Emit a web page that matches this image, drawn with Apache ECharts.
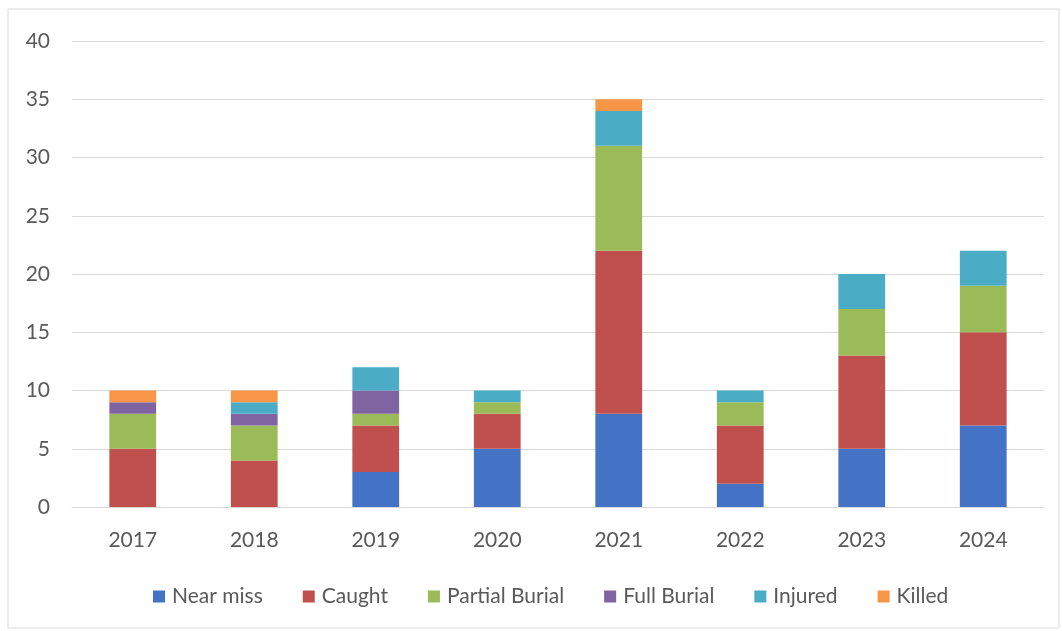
<!DOCTYPE html>
<html>
<head>
<meta charset="utf-8">
<script src="https://cdn.jsdelivr.net/npm/echarts@6/dist/echarts.min.js"></script>
<style>
  html, body { margin: 0; padding: 0; background: #fff; }
  #chart { width: 1062px; height: 631px; }
</style>
</head>
<body>
<div id="chart"></div>
<script>
// Incident outcomes per year
const years = ['2017', '2018', '2019', '2020', '2021', '2022', '2023', '2024'];
const nearMiss      = [0, 0, 3, 5, 8, 2, 5, 7];
const caught        = [5, 4, 4, 3, 14, 5, 8, 8];
const partialBurial = [3, 3, 1, 1, 9, 2, 4, 4];
const fullBurial    = [1, 1, 2, 0, 0, 0, 0, 0];
const injured       = [0, 1, 2, 1, 3, 1, 3, 3];
const killed        = [1, 1, 0, 0, 1, 0, 0, 0];

const seriesDefs = [
  ['Near miss', nearMiss, '#4472C4'],
  ['Caught', caught, '#C0504D'],
  ['Partial Burial', partialBurial, '#9BBB59'],
  ['Full Burial', fullBurial, '#8064A2'],
  ['Injured', injured, '#4BACC6'],
  ['Killed', killed, '#F79646']
];

const textColor = '#595959';
const fontFamily = 'Lato, "Open Sans", sans-serif';

const chart = echarts.init(document.getElementById('chart'), null, { renderer: 'canvas' });
chart.setOption({
  animation: false,
  backgroundColor: '#fff',
  textStyle: { fontFamily: fontFamily },
  graphic: [{
    type: 'rect',
    shape: { x: 8, y: 9, width: 1051, height: 619 },
    style: { fill: 'none', stroke: '#d9d9d9', lineWidth: 1 },
    silent: true
  }],
  grid: { left: 72, right: 18, top: 41, bottom: 124 },
  legend: {
    bottom: 19,
    left: 148,
    itemWidth: 12,
    itemHeight: 12,
    itemGap: 40,
    icon: 'rect',
    textStyle: { color: textColor, fontSize: 21, fontFamily: fontFamily, padding: [0, 0, 0, 2] },
    data: seriesDefs.map(d => d[0])
  },
  xAxis: {
    type: 'category',
    data: years,
    axisLine: { show: true, lineStyle: { color: '#d9d9d9', width: 1 } },
    axisTick: { show: false },
    axisLabel: { color: textColor, fontSize: 21, margin: 23 }
  },
  yAxis: {
    type: 'value',
    min: 0,
    max: 40,
    interval: 5,
    axisLine: { show: false },
    axisTick: { show: false },
    axisLabel: { color: textColor, fontSize: 21, margin: 22 },
    splitLine: { lineStyle: { color: '#d9d9d9', width: 1 } }
  },
  series: seriesDefs.map(([name, values, color]) => ({
    name: name,
    type: 'bar',
    stack: 'total',
    data: values,
    barWidth: '38.5%',
    itemStyle: { color: color },
    emphasis: { disabled: true }
  }))
});
</script>
</body>
</html>
